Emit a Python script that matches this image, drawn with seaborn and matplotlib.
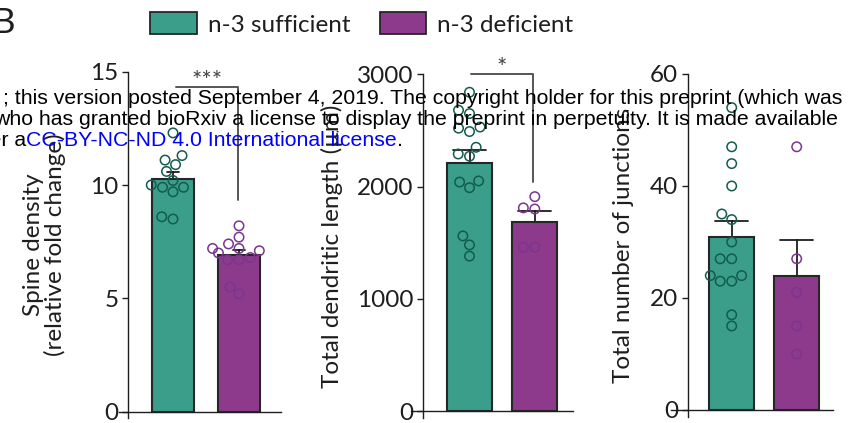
import numpy as np
import pandas as pd
import seaborn as sns
import matplotlib.pyplot as plt
from matplotlib.patches import Patch

# values
groups = ["n-3 sufficient", "n-3 deficient"]
spine_suff = [12.3, 11.3, 11.1, 10.9, 10.6, 10.2, 10.0, 9.9, 9.7, 9.9, 8.6, 8.5]
spine_def = [8.2, 7.7, 7.4, 7.2, 7.2, 7.1, 7.0, 6.8, 6.7, 6.7, 5.5, 5.2]
length_suff = [2840, 2680, 2650, 2530, 2520, 2490, 2350, 2290, 2270, 2050, 2040, 1990, 1560, 1480, 1380]
length_def = [1910, 1810, 1800, 1460, 1460]
junc_suff = [54, 47, 44, 40, 35, 34, 30, 27, 27, 24, 23, 23, 24, 17, 15]
junc_def = [47, 27, 21, 15, 10]

spine_ticks = [0, 5, 10, 15]
length_ticks = [0, 1000, 2000, 3000]
junc_ticks = [0, 20, 40, 60]

bar_colors = ["#3a9e8b", "#8e3a8c"]
dot_colors = ["#125c4c", "#7a3590"]
ink = "#1e1e1e"

sns.set_theme(style="ticks")
plt.rcParams["font.family"] = ["Lato", "DejaVu Sans"]
plt.rcParams["text.color"] = ink
plt.rcParams["axes.labelcolor"] = ink
plt.rcParams["xtick.color"] = ink
plt.rcParams["ytick.color"] = ink

W, H = 859, 423
fig = plt.figure(figsize=(W / 100, H / 100), dpi=100)


def px_axes(left, right, top, bottom):
    return fig.add_axes([left / W, (H - bottom) / H, (right - left) / W, (bottom - top) / H])


def panel(ax, suff, deff, ticks, xlim, ylim, spine_x, width, capsize, label, label_x):
    df = pd.DataFrame({
        "group": [groups[0]] * len(suff) + [groups[1]] * len(deff),
        "value": suff + deff,
    })
    sns.barplot(data=df, x="group", y="value", hue="group", order=groups,
                hue_order=groups, palette=bar_colors, saturation=1,
                errorbar="se", capsize=capsize, width=width,
                edgecolor="#262626", linewidth=1.5,
                err_kws={"color": ink, "linewidth": 1.3},
                legend=False, ax=ax)
    for p in ax.patches:
        p.set_zorder(2)
    for ln in ax.lines:
        ln.set_zorder(1.5)
    n0 = len(ax.collections)
    sns.swarmplot(data=df, x="group", y="value", hue="group", order=groups,
                  hue_order=groups, palette=dot_colors, size=6.8,
                  legend=False, ax=ax)
    for c in ax.collections[n0:]:
        fc = c.get_facecolors()
        c.set_edgecolors(fc)
        c.set_facecolors("none")
        c.set_linewidth(1.1)
        c.set_zorder(3)
    ax.set_xlim(*xlim)
    ax.set_ylim(*ylim)
    ax.set_yticks(ticks)
    ax.set_yticklabels([str(t) for t in ticks])
    ax.set_xticks([])
    ax.set_xlabel("")
    ax.set_ylabel(label, fontsize=17.5, linespacing=0.95)
    ax.yaxis.set_label_coords(label_x, 0.5)
    for s in ["top", "right"]:
        ax.spines[s].set_visible(False)
    ax.spines["left"].set_position(("data", spine_x))
    ax.spines["bottom"].set_position(("data", 0))
    for s in ["left", "bottom"]:
        ax.spines[s].set_linewidth(1.0)
        ax.spines[s].set_color(ink)
    ax.tick_params(axis="y", direction="out", length=4.3, width=1.0,
                   pad=2.5, labelsize=17.5)
    ax.patch.set_alpha(0)


def bracket(ax, x0, x1, y, ydrop, star):
    ax.plot([x0, x1, x1], [y, y, ydrop], color="#555555", lw=1.4,
            clip_on=False, zorder=4)
    ax.text((x0 + x1) / 2, y, star, ha="center", va="baseline",
            fontsize=17.5, color="#444444")


ax1 = px_axes(119, 281, 71.7, 418)
panel(ax1, spine_suff, spine_def, spine_ticks, (-0.818, 1.636), (-0.28, 15),
      -0.682, 0.64, 0.17, "Spine density\n(relative fold change)", -0.33)
bracket(ax1, 0.045, 0.985, 14.31, 9.34, "***")

ax2 = px_axes(411, 573, 74.3, 418)
panel(ax2, length_suff, length_def, length_ticks, (-0.896, 1.585), (-62, 3000),
      -0.712, 0.69, 0.5, "Total dendritic length (µm)", -0.42)
bracket(ax2, 0.023, 0.972, 3005, 2043, "*")

ax3 = px_axes(671, 832.7, 74, 416.7)
panel(ax3, junc_suff, junc_def, junc_ticks, (-0.934, 1.554), (-1.2, 60),
      -0.677, 0.70, 0.5, "Total number of junctions", -0.23)

handles = [Patch(facecolor=bar_colors[i], edgecolor="#262626", linewidth=1.3, label=g)
           for i, g in enumerate(groups)]
fig.legend(handles=handles, loc="center left", bbox_to_anchor=(150 / W, 1 - 24 / H),
           ncol=2, frameon=False, fontsize=17.5, handlelength=1.93,
           handleheight=1.0, handletextpad=0.45, columnspacing=1.2,
           borderpad=0, borderaxespad=0)

fig.text(-7 / W, 1 - 23 / H, "B", fontsize=25, va="center", ha="left")

# bioRxiv watermark overlay
wm = dict(fontsize=15.35, family=["Liberation Sans", "DejaVu Sans"], va="center", zorder=10)
fig.text(842 / W, 1 - 98 / H,
         "; this version posted September 4, 2019. The copyright holder for this preprint (which was",
         ha="right", color="black", **wm)
fig.text(838 / W, 1 - 119 / H,
         "who has granted bioRxiv a license to display the preprint in perpetuity. It is made available",
         ha="right", color="black", **wm)
fig.text(26 / W, 1 - 140 / H, "under a", ha="right", color="black", **wm)
lic = fig.text(26 / W, 1 - 140 / H, "CC-BY-NC-ND 4.0 International license", ha="left",
               color="#0000ff", **wm)
bb = lic.get_window_extent(renderer=fig.canvas.get_renderer())
fig.text(bb.x1 / W, 1 - 140 / H, ".", ha="left", color="black", **wm)

fig.savefig("out.png", dpi=100)
